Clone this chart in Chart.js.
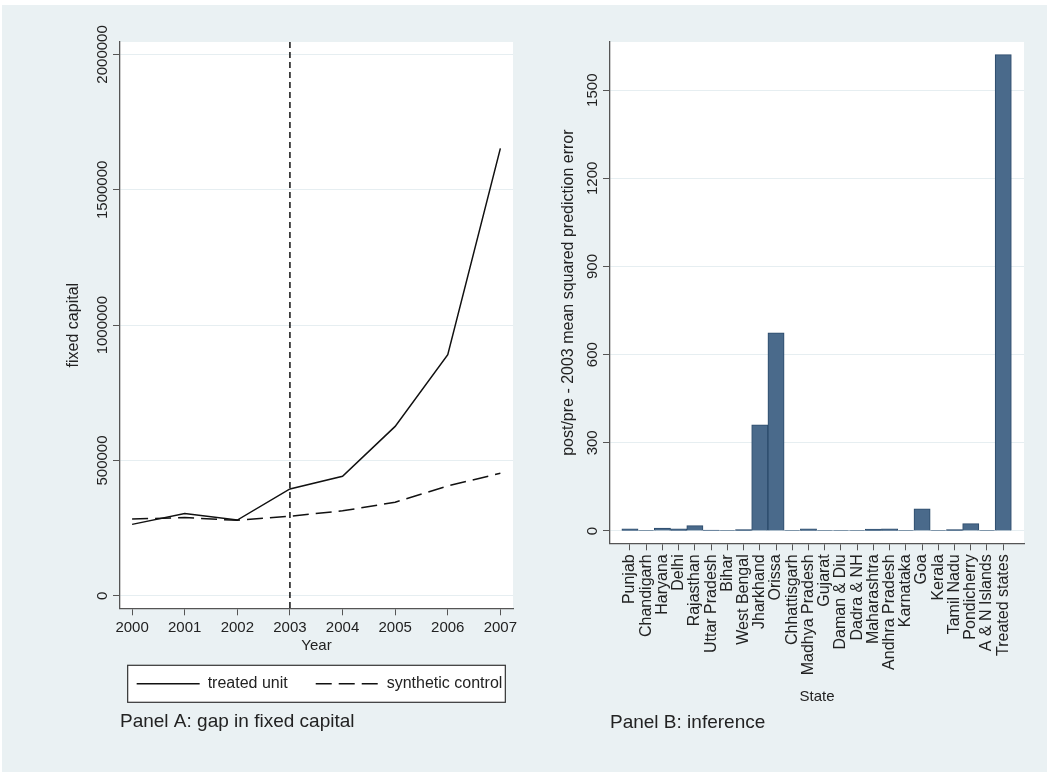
<!DOCTYPE html>
<html>
<head>
<meta charset="utf-8">
<script src="https://cdn.jsdelivr.net/npm/chart.js@4.4.1/dist/chart.umd.min.js"></script>
<style>
  html, body { margin: 0; padding: 0; background: #fff; }
  #wrap { position: absolute; left: 2px; top: 5px; width: 1045px; height: 767px; background: #eaf1f3; }
  #panelA { position: absolute; left: 0; top: 0; }
  #panelB { position: absolute; left: 523px; top: 0; }
</style>
</head>
<body>
<div id="wrap">
  <canvas id="panelA" width="523" height="767"></canvas>
  <canvas id="panelB" width="522" height="767"></canvas>
</div>
<script>
// panel A data
const years = [2000, 2001, 2002, 2003, 2004, 2005, 2006, 2007]
const treatedUnit = [264000, 304000, 280000, 395000, 442000, 626000, 891000, 1653000]
const syntheticControl = [284000, 289000, 279000, 294000, 314000, 346000, 406000, 453000]
const treatYear = 2003
const capitalTicks = [0, 500000, 1000000, 1500000, 2000000]

// panel B data
const states = ['Punjab', 'Chandigarh', 'Haryana', 'Delhi', 'Rajasthan', 'Uttar Pradesh', 'Bihar',
    'West Bengal', 'Jharkhand', 'Orissa', 'Chhattisgarh', 'Madhya Pradesh', 'Gujarat', 'Daman & Diu',
    'Dadra & NH', 'Maharashtra', 'Andhra Pradesh', 'Karnataka', 'Goa', 'Kerala', 'Tamil Nadu',
    'Pondicherry', 'A & N Islands', 'Treated states']
const mspe = [7, 2, 10, 7, 18, 3, 2, 5, 361, 674, 2, 7, 2, 2, 1, 6, 7, 2, 75, 1, 5, 25, 2, 1621]
const mspeTicks = [0, 300, 600, 900, 1200, 1500]

const textColor = '#222'
const axisColor = '#555'
const gridColor = '#e6eef1'
const fontFamily = "'Liberation Sans', Arial, Helvetica, sans-serif"

Chart.defaults.font.family = fontFamily
Chart.defaults.color = textColor

const plotBg = {
    id: 'plotBg',
    beforeDraw(chart) {
        const { ctx, chartArea: a } = chart
        ctx.save()
        ctx.fillStyle = '#fff'
        ctx.fillRect(a.left, a.top, a.right - a.left, a.bottom - a.top)
        ctx.restore()
    }
}

// stata style: y tick labels turned on their side
const rotatedYTicks = {
    id: 'rotatedYTicks',
    afterDraw(chart) {
        const y = chart.scales.y
        const ctx = chart.ctx
        ctx.save()
        ctx.fillStyle = textColor
        ctx.font = '15px ' + fontFamily
        ctx.textAlign = 'center'
        ctx.textBaseline = 'alphabetic'
        y.ticks.forEach(t => {
            const py = y.getPixelForValue(t.value)
            ctx.save()
            ctx.translate(y.right - 13.5, py)
            ctx.rotate(-Math.PI / 2)
            ctx.fillText(t.label, 0, 0)
            ctx.restore()
        })
        ctx.restore()
    }
}

const treatLine = {
    id: 'treatLine',
    afterDatasetsDraw(chart) {
        const { ctx, chartArea: a } = chart
        const x = chart.scales.x.getPixelForValue(treatYear)
        ctx.save()
        ctx.strokeStyle = '#111'
        ctx.lineWidth = 1.5
        ctx.setLineDash([6, 4])
        ctx.beginPath()
        ctx.moveTo(x, a.top)
        ctx.lineTo(x, a.bottom)
        ctx.stroke()
        ctx.restore()
    }
}

// boxed legend with dashed samples (built-in one can't dash point styles)
const lineLegend = {
    id: 'lineLegend',
    afterDraw(chart) {
        const { ctx, chartArea: a } = chart
        const sets = chart.data.datasets
        const sample = 63, gap = 8, itemGap = 28
        ctx.save()
        ctx.font = '16px ' + fontFamily
        const widths = sets.map(ds => sample + gap + ctx.measureText(ds.label).width)
        const total = widths.reduce((s, w) => s + w, 0) + itemGap * (sets.length - 1)
        let x = (a.left + a.right) / 2 - total / 2 + 3
        const cy = a.bottom + 75.5

        ctx.fillStyle = '#fff'
        ctx.strokeStyle = '#333'
        ctx.lineWidth = 1.2
        ctx.fillRect(x - 9, cy - 18.5, total + 12, 37)
        ctx.strokeRect(x - 9, cy - 18.5, total + 12, 37)

        sets.forEach((ds, i) => {
            ctx.strokeStyle = ds.borderColor
            ctx.lineWidth = ds.borderWidth
            ctx.setLineDash(ds.borderDash || [])
            ctx.beginPath()
            ctx.moveTo(x, cy)
            ctx.lineTo(x + sample, cy)
            ctx.stroke()
            ctx.setLineDash([])
            ctx.fillStyle = textColor
            ctx.textAlign = 'left'
            ctx.textBaseline = 'middle'
            ctx.fillText(ds.label, x + sample + gap, cy)
            x += widths[i] + itemGap
        })
        ctx.restore()
    }
}

new Chart(document.getElementById('panelA'), {
    type: 'line',
    data: {
        datasets: [
            {
                label: 'treated unit',
                data: years.map((yr, i) => ({ x: yr, y: treatedUnit[i] })),
                borderColor: '#111',
                backgroundColor: 'transparent',
                borderWidth: 1.5,
                pointRadius: 0,
                tension: 0
            }, {
                label: 'synthetic control',
                data: years.map((yr, i) => ({ x: yr, y: syntheticControl[i] })),
                borderColor: '#111',
                backgroundColor: 'transparent',
                borderWidth: 1.5,
                borderDash: [16, 7],
                pointRadius: 0,
                tension: 0
            }
        ]
    },
    options: {
        responsive: false,
        animation: false,
        layout: { padding: { left: 0, right: 12, top: 37, bottom: 38.9 } },
        scales: {
            x: {
                type: 'linear',
                min: 1999.77,
                max: 2007.24,
                afterBuildTicks: s => { s.ticks = years.map(v => ({ value: v })) },
                afterFit: s => { s.height = 40 },
                ticks: { callback: v => String(v), font: { size: 15 }, color: textColor, padding: 4, maxRotation: 0, autoSkip: false },
                grid: { drawOnChartArea: false, tickLength: 7, color: axisColor, tickColor: axisColor },
                border: { color: axisColor, width: 1.3 },
                title: { display: true, text: 'Year', font: { size: 15 }, color: textColor, padding: { top: 0, bottom: -7 } }
            },
            y: {
                min: -46000,
                max: 2046000,
                afterBuildTicks: s => { s.ticks = capitalTicks.map(v => ({ value: v })) },
                afterFit: s => { s.width = 118 },
                ticks: { callback: v => String(v), color: 'transparent', font: { size: 15 } },
                grid: { color: gridColor, tickColor: axisColor, tickLength: 7 },
                border: { color: axisColor, width: 1.3 },
                title: { display: true, text: 'fixed capital', font: { size: 16 }, color: textColor, padding: { top: 62, bottom: 0 } }
            }
        },
        plugins: {
            legend: { display: false },
            title: {
                display: true,
                position: 'bottom',
                align: 'start',
                fullSize: false,
                text: 'Panel A: gap in fixed capital',
                font: { size: 19, weight: 'normal' },
                color: textColor,
                padding: { top: 62, bottom: 0 }
            },
            tooltip: { enabled: false }
        }
    },
    plugins: [plotBg, treatLine, rotatedYTicks, lineLegend]
});

new Chart(document.getElementById('panelB'), {
    type: 'bar',
    data: {
        datasets: [
            {
                label: 'post/pre - 2003 MSPE',
                data: states.map((s, i) => ({ x: i, y: mspe[i] })),
                backgroundColor: '#4a6a8b',
                borderColor: '#2b4a6a',
                borderWidth: 1,
                barPercentage: 1,
                categoryPercentage: 1
            }
        ]
    },
    options: {
        responsive: false,
        animation: false,
        layout: { padding: { left: 0, right: 23, top: 37, bottom: 37.7 } },
        scales: {
            x: {
                type: 'linear',
                min: -1.23,
                max: 24.28,
                offset: false,
                afterBuildTicks: s => { s.ticks = states.map((st, i) => ({ value: i })) },
                afterFit: s => { s.height = 166.7 },
                ticks: { callback: v => states[v], autoSkip: false, minRotation: 90, maxRotation: 90, padding: 4, font: { size: 16 }, color: textColor },
                grid: { offset: false, drawOnChartArea: false, tickLength: 7, color: axisColor, tickColor: axisColor },
                border: { color: axisColor, width: 1.3 },
                title: { display: true, text: 'State', font: { size: 15 }, color: textColor, padding: { top: 0, bottom: 4 } }
            },
            y: {
                min: -42,
                max: 1664,
                afterBuildTicks: s => { s.ticks = mspeTicks.map(v => ({ value: v })) },
                afterFit: s => { s.width = 85 },
                ticks: { callback: v => String(v), color: 'transparent', font: { size: 15 } },
                grid: { color: gridColor, tickColor: axisColor, tickLength: 7 },
                border: { color: axisColor, width: 1.3 },
                title: { display: true, text: 'post/pre - 2003 mean squared prediction error', font: { size: 16 }, color: textColor, padding: { top: 34.4, bottom: 0 } }
            }
        },
        plugins: {
            legend: { display: false },
            title: {
                display: true,
                position: 'bottom',
                align: 'start',
                fullSize: false,
                text: 'Panel B: inference',
                font: { size: 19, weight: 'normal' },
                color: textColor,
                padding: { top: 1.5, bottom: 0 }
            },
            tooltip: { enabled: false }
        }
    },
    plugins: [plotBg, rotatedYTicks]
});
</script>
</body>
</html>
